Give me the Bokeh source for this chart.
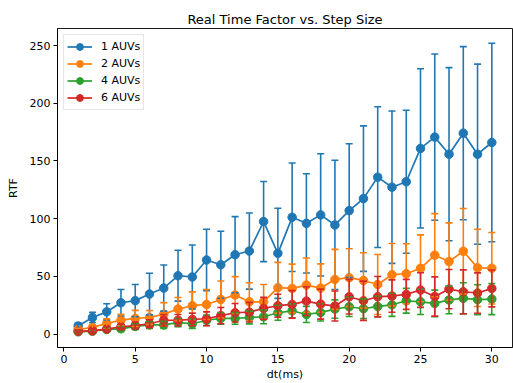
import numpy as np
from bokeh.plotting import figure
from bokeh.models import ColumnDataSource, Whisker, TeeHead, Legend, LegendItem, Range1d, FixedTicker
from bokeh.embed import file_html
from bokeh.resources import INLINE

dt = list(range(1, 31))
series_names = ["1 AUVs", "2 AUVs", "4 AUVs", "6 AUVs"]
colors = ["#1f77b4", "#ff7f0e", "#2ca02c", "#d62728"]

rtf_1 = [7, 14.4, 19.3, 27.2, 29, 34.7, 39.9, 50.6, 49.5, 64.2, 60.1, 68.8, 72, 97.5, 70,
         101.2, 96, 103.3, 94.6, 107, 117.4, 136, 127.3, 132, 160.9, 170.7, 155.9, 174.1, 155.9, 166]
err_1 = [2.5, 4.4, 7, 11.5, 14, 18, 20, 22, 27.7, 26.6, 29, 33, 33, 34.7, 39,
         47, 43, 53, 56, 58, 63, 61, 66, 62, 69, 72, 75, 75, 78, 86]

rtf_2 = [4, 5.8, 9.2, 12.1, 13.6, 14.4, 17.3, 21.7, 24.6, 25.7, 30, 33.8, 28, 28, 40.2,
         39.6, 42.5, 39.9, 47.4, 48.9, 46.5, 43, 51.5, 52.3, 57, 68.4, 62.9, 71.8, 57.4, 57.1]
err_2 = [1, 2, 4, 5, 7, 6, 10, 10, 12, 13, 16, 16, 16.5, 15, 22,
         21, 23.5, 21, 26, 25, 24, 26, 27, 26, 29, 36, 33.5, 37, 33.5, 31]

rtf_4 = [2, 2.5, 4, 4.6, 6.6, 8, 8, 10, 9, 12, 13.6, 13.6, 14.4, 15, 18.5,
         20.2, 17, 18.8, 21.7, 23.7, 22, 24, 25.4, 28.9, 28, 26.6, 29.6, 31, 29.8, 30.4]
err_4 = [1, 1, 1.5, 2, 2.5, 3, 3, 3.5, 4, 4.5, 5, 5, 5.5, 6, 6.5,
         6, 7, 7.5, 8, 8.5, 8.5, 9, 10, 10.7, 11, 11.5, 12, 13.5, 13, 13.5]

rtf_6 = [2.5, 3, 4.4, 6.3, 7.4, 9, 12, 12, 12.7, 13.3, 16, 18.5, 19, 22.3, 24.6,
         25.7, 28.6, 26, 24.3, 32.4, 28.9, 32.4, 33, 34.4, 38.2, 32.6, 39, 36.7, 35.6, 39.6]
err_6 = [1, 1.5, 2, 2.5, 3, 3.5, 5, 5, 5.5, 6, 7, 8, 8.5, 9.5, 10,
         12, 12.5, 13, 13, 15, 17, 17.5, 14, 13, 15, 17, 17, 19, 17.5, 16]

values = [rtf_1, rtf_2, rtf_4, rtf_6]
errors = [err_1, err_2, err_4, err_6]

FONT = "DejaVu Sans"

p = figure(width=513, height=383, output_backend="svg", toolbar_location=None,
           x_range=Range1d(-0.45, 31.45), y_range=Range1d(-11.6, 264.8),
           min_border_left=57, min_border_right=1, min_border_top=28, min_border_bottom=36,
           title="Real Time Factor vs. Step Size")

p.title.align = "center"
p.title.text_font = FONT
p.title.text_font_size = "13px"
p.title.text_font_style = "normal"
p.title.text_color = "black"
p.title.standoff = 4

p.xgrid.visible = False
p.ygrid.visible = False
p.outline_line_color = "black"
p.outline_line_width = 0.9
p.background_fill_color = "white"

for ax in (p.xaxis, p.yaxis):
    ax.major_label_text_font = FONT
    ax.major_label_text_font_size = "11px"
    ax.major_label_text_color = "black"
    ax.axis_label_text_font = FONT
    ax.axis_label_text_font_size = "11px"
    ax.axis_label_text_font_style = "normal"
    ax.axis_label_text_color = "black"
    ax.axis_line_color = "black"
    ax.axis_line_width = 0.9
    ax.major_tick_line_color = "black"
    ax.major_tick_out = 4
    ax.major_tick_in = 0
    ax.minor_tick_line_color = None
    ax.major_label_standoff = 3

p.xaxis.axis_label_standoff = 2
p.yaxis.axis_label_standoff = 7
p.xaxis.axis_label = "dt(ms)"
p.yaxis.axis_label = "RTF"
p.xaxis.ticker = FixedTicker(ticks=[0, 5, 10, 15, 20, 25, 30])
p.yaxis.ticker = FixedTicker(ticks=[0, 50, 100, 150, 200, 250])

items = []
for name, col, v, e in zip(series_names, colors, values, errors):
    v = np.array(v, dtype=float)
    e = np.array(e, dtype=float)
    src = ColumnDataSource(dict(x=dt, y=v, upper=v + e, lower=v - e))
    ln = p.line("x", "y", source=src, line_color=col, line_width=1.7)
    sc = p.scatter("x", "y", source=src, size=8.5, fill_color=col, line_color=col)
    w = Whisker(base="x", upper="upper", lower="lower", source=src, dimension="height",
                line_color=col, line_width=1.6, level="glyph",
                upper_head=TeeHead(size=7, line_color=col, line_width=1.6),
                lower_head=TeeHead(size=7, line_color=col, line_width=1.6))
    p.add_layout(w)
    items.append(LegendItem(label=name, renderers=[ln, sc]))

legend = Legend(items=items, location="top_left")
legend.label_text_font = FONT
legend.label_text_font_size = "11px"
legend.label_text_color = "black"
legend.glyph_width = 25
legend.glyph_height = 17
legend.label_height = 17
legend.spacing = 0
legend.padding = 3
legend.margin = 6
legend.border_line_color = "#cccccc"
legend.border_line_width = 1
legend.background_fill_alpha = 0.8
legend.label_standoff = 9
p.add_layout(legend)

open("out.html", "w").write(file_html(p, INLINE))
